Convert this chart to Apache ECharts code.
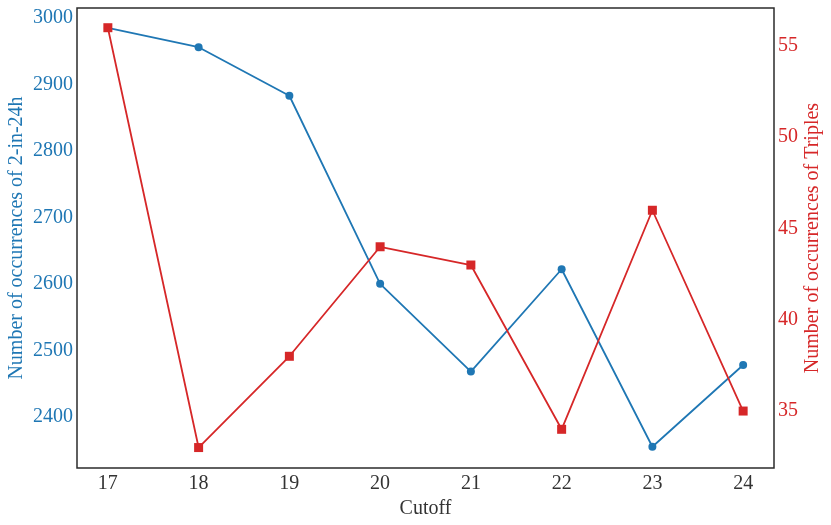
<!DOCTYPE html>
<html>
<head>
<meta charset="utf-8">
<script src="https://cdn.jsdelivr.net/npm/echarts@6/dist/echarts.min.js"></script>
<style>
  html, body { margin: 0; padding: 0; background: #fff; }
  #main { width: 831px; height: 525px; }
</style>
</head>
<body>
<div id="main"></div>
<script>
var cutoffs = [17, 18, 19, 20, 21, 22, 23, 24];
var twoIn24h = [2985, 2956, 2883, 2600, 2468, 2622, 2355, 2478];
var triples = [56, 33, 38, 44, 43, 34, 46, 35];
var leftTicks = [2400, 2500, 2600, 2700, 2800, 2900, 3000];
var rightTicks = [35, 40, 45, 50, 55];

var BLUE = '#1f77b4';
var RED = '#d62728';
var FONT = 'Liberation Serif';

var chartDom = document.getElementById('main');
var myChart = echarts.init(chartDom);

function pairs(xs, ys) {
  return xs.map(function (x, i) { return [x, ys[i]]; });
}

// plain numbers, no thousands separator
function plain(v) { return String(v); }

var option = {
  animation: false,
  grid: {
    left: 77, right: 57, top: 8, bottom: 57,
    outerBoundsMode: 'none',
    containLabel: false,
    show: true, borderColor: '#2b2b2b', borderWidth: 1.5
  },
  xAxis: {
    type: 'value',
    min: 16.66, max: 24.34,
    name: 'Cutoff',
    nameLocation: 'middle',
    nameGap: 31,
    nameMoveOverlap: false,
    nameTextStyle: { fontFamily: FONT, fontSize: 20, color: '#333' },
    axisLine: { show: false },
    axisTick: { show: false },
    splitLine: { show: false },
    axisLabel: {
      customValues: cutoffs,
      formatter: plain,
      fontFamily: FONT, fontSize: 20, color: '#333', margin: 6
    }
  },
  yAxis: [
    {
      type: 'value',
      position: 'left',
      min: 2323, max: 3015,
      name: 'Number of occurrences of 2-in-24h',
      nameLocation: 'middle',
      nameGap: 50,
      nameMoveOverlap: false,
      nameTextStyle: { fontFamily: FONT, fontSize: 20, color: BLUE },
      axisLine: { show: false },
      axisTick: { show: false },
      splitLine: { show: false },
      axisLabel: {
        customValues: leftTicks,
        formatter: plain,
        fontFamily: FONT, fontSize: 20, color: BLUE, margin: 4
      }
    },
    {
      type: 'value',
      position: 'right',
      min: 31.88, max: 57.08,
      name: 'Number of occurrences of Triples',
      nameLocation: 'middle',
      nameGap: 29,
      nameRotate: 90,
      nameMoveOverlap: false,
      nameTextStyle: { fontFamily: FONT, fontSize: 20, color: RED },
      axisLine: { show: false },
      axisTick: { show: false },
      splitLine: { show: false },
      axisLabel: {
        customValues: rightTicks,
        formatter: plain,
        fontFamily: FONT, fontSize: 20, color: RED, margin: 4
      }
    }
  ],
  series: [
    {
      name: '2-in-24h',
      type: 'line',
      yAxisIndex: 0,
      data: pairs(cutoffs, twoIn24h),
      symbol: 'circle',
      symbolSize: 8,
      lineStyle: { color: BLUE, width: 1.8 },
      itemStyle: { color: BLUE }
    },
    {
      name: 'Triples',
      type: 'line',
      yAxisIndex: 1,
      data: pairs(cutoffs, triples),
      symbol: 'rect',
      symbolSize: 9,
      lineStyle: { color: RED, width: 1.8 },
      itemStyle: { color: RED }
    }
  ]
};

myChart.setOption(option);
</script>
</body>
</html>
